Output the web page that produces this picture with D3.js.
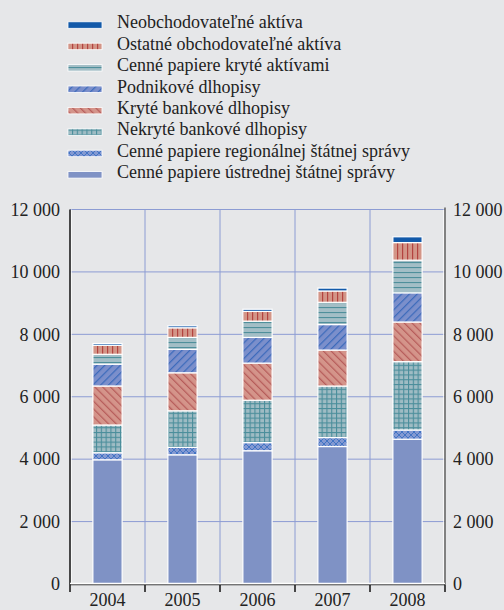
<!DOCTYPE html>
<html>
<head>
<meta charset="utf-8">
<script src="https://cdn.jsdelivr.net/npm/d3@7"></script>
<style>
  html, body { margin: 0; padding: 0; background: #e6e7e9; }
  svg { display: block; }
  svg text { font-family: "Liberation Serif", "Times New Roman", Times, "DejaVu Serif", serif; fill: #222; }
</style>
</head>
<body>
<svg id="chart" width="504" height="610"></svg>
<script>
// Holdings by asset type, yearly (values in the chart's units)
const years = ["2004", "2005", "2006", "2007", "2008"];

const ustredna   = [3980, 4140, 4270, 4405, 4640];
const regionalna = [225, 237, 260, 288, 295];
const nekryte    = [890, 1173, 1358, 1650, 2190];
const kryte      = [1250, 1218, 1190, 1153, 1270];
const podnikove  = [698, 750, 823, 817, 936];
const krytAktiv  = [317, 384, 522, 714, 1045];
const ostatne    = [288, 308, 311, 362, 564];
const neobch     = [58, 64, 70, 93, 186];

// series from bottom of stack to top
const seriesKeys = ["ustredna", "regionalna", "nekryte", "kryte", "podnikove", "krytAktiv", "ostatne", "neobch"];
const seriesValues = { ustredna, regionalna, nekryte, kryte, podnikove, krytAktiv, ostatne, neobch };
const seriesLabels = {
  neobch: "Neobchodovateľné aktíva",
  ostatne: "Ostatné obchodovateľné aktíva",
  krytAktiv: "Cenné papiere kryté aktívami",
  podnikove: "Podnikové dlhopisy",
  kryte: "Kryté bankové dlhopisy",
  nekryte: "Nekryté bankové dlhopisy",
  regionalna: "Cenné papiere regionálnej štátnej správy",
  ustredna: "Cenné papiere ústrednej štátnej správy"
};
const legendOrder = ["neobch", "ostatne", "krytAktiv", "podnikove", "kryte", "nekryte", "regionalna", "ustredna"];
const yTicks = [0, 2000, 4000, 6000, 8000, 10000, 12000];

const FONT = '"Liberation Serif", "Times New Roman", Times, "DejaVu Serif", serif';
const svg = d3.select("#chart");

// ---- fill patterns ----
const defs = svg.append("defs");
function pat(id, w, h, bg, transform) {
  const p = defs.append("pattern").attr("id", id)
    .attr("patternUnits", "userSpaceOnUse").attr("width", w).attr("height", h);
  if (transform) p.attr("patternTransform", transform);
  p.append("rect").attr("width", w).attr("height", h).attr("fill", bg);
  return p;
}
// vertical red stripes
pat("p-ostatne", 5, 5, "#d39587")
  .append("rect").attr("x", 2).attr("y", 0).attr("width", 1.2).attr("height", 5).attr("fill", "#b3433f");
// horizontal teal stripes
pat("p-krytAktiv", 5, 5, "#a3bec6")
  .append("rect").attr("x", 0).attr("y", 2).attr("width", 5).attr("height", 1.1).attr("fill", "#4f8f9b");
// forward diagonal blue lines
pat("p-podnikove", 5.5, 5.5, "#7b8fcb", "rotate(45)")
  .append("rect").attr("x", 2).attr("y", 0).attr("width", 1).attr("height", 5.5).attr("fill", "#2e62b8");
// back diagonal red lines
pat("p-kryte", 5.5, 5.5, "#d4948a", "rotate(-45)")
  .append("rect").attr("x", 2).attr("y", 0).attr("width", 1).attr("height", 5.5).attr("fill", "#b04f4f");
// teal grid
{
  const p = pat("p-nekryte", 4.8, 4.8, "#9fbcc4");
  p.append("rect").attr("x", 0).attr("y", 0).attr("width", 4.8).attr("height", 1.1).attr("fill", "#4b8e9b");
  p.append("rect").attr("x", 0).attr("y", 0).attr("width", 1.1).attr("height", 4.8).attr("fill", "#4b8e9b");
}
// blue cross-hatch
{
  const p = pat("p-regionalna", 6, 6, "#8399d2");
  p.append("path").attr("d", "M0,0L6,6M6,0L0,6").attr("stroke", "#3b6fc3").attr("stroke-width", 0.9).attr("fill", "none");
}

const fills = {
  ustredna: "#7f92c5",
  regionalna: "url(#p-regionalna)",
  nekryte: "url(#p-nekryte)",
  kryte: "url(#p-kryte)",
  podnikove: "url(#p-podnikove)",
  krytAktiv: "url(#p-krytAktiv)",
  ostatne: "url(#p-ostatne)",
  neobch: "#1259a9"
};

// ---- legend ----
const legend = svg.append("g");
legendOrder.forEach((k, i) => {
  const base = 28.3 + i * 21.4;
  legend.append("rect")
    .attr("x", 68).attr("y", base - 6.5).attr("width", 34).attr("height", 6.5)
    .attr("fill", fills[k]).attr("stroke", "#fff").attr("stroke-width", 0.8);
  legend.append("text")
    .attr("x", 117).attr("y", base).attr("font-size", 18).attr("font-family", FONT)
    .text(seriesLabels[k]);
});

// ---- scales ----
const x0 = 70, x1 = 445, yBottom = 584, yTop = 209.5;
const x = d3.scaleBand().domain(years).range([x0, x1]).paddingInner(0.61).paddingOuter(0.305);
const y = d3.scaleLinear().domain([0, 12000]).range([yBottom, yTop]);
const fmt = d3.formatLocale({ decimal: ",", thousands: " ", grouping: [3], currency: ["", ""] }).format(",d");

// ---- grid ----
const grid = svg.append("g").attr("stroke", "#8c9cd3").attr("stroke-width", 1);
yTicks.filter(t => t > 0).forEach(t => {
  grid.append("line").attr("x1", x0).attr("x2", x1).attr("y1", y(t)).attr("y2", y(t));
});
const step = x.step();
years.slice(1).forEach((yr, i) => {
  const gx = x0 + step * (i + 1);
  grid.append("line").attr("x1", gx).attr("x2", gx).attr("y1", yTop).attr("y2", yBottom);
});

// ---- stacked bars ----
const table = years.map((yr, i) => {
  const row = { year: yr };
  seriesKeys.forEach(k => row[k] = seriesValues[k][i]);
  return row;
});
const stacked = d3.stack().keys(seriesKeys)(table);
svg.append("g").selectAll("g").data(stacked).join("g")
  .attr("fill", d => fills[d.key])
  .selectAll("rect").data(d => d).join("rect")
  .attr("x", d => x(d.data.year))
  .attr("width", x.bandwidth())
  .attr("y", d => y(d[1]))
  .attr("height", d => y(d[0]) - y(d[1]))
  .attr("stroke", "#fff").attr("stroke-width", 1.2);

// ---- axes ----
function styleAxisText(g) {
  g.attr("font-family", FONT).attr("font-size", 18);
  g.selectAll("text").attr("font-size", 18).attr("font-family", FONT).attr("fill", "#222");
}
const axY = d3.axisLeft(y).tickValues(yTicks).tickFormat(fmt).tickSize(0).tickPadding(10);
const gl = svg.append("g").attr("transform", `translate(${x0},0)`).call(axY);
gl.select(".domain").remove();
styleAxisText(gl);

const axYR = d3.axisRight(y).tickValues(yTicks).tickFormat(fmt).tickSize(0).tickPadding(8);
const gr = svg.append("g").attr("transform", `translate(${x1},0)`).call(axYR);
gr.select(".domain").remove();
styleAxisText(gr);

// axis lines
svg.append("line").attr("x1", x0 + 1.2).attr("x2", x0 + 1.2).attr("y1", yTop).attr("y2", yBottom).attr("stroke", "#fff").attr("stroke-width", 1);
svg.append("line").attr("x1", x0).attr("x2", x0).attr("y1", yTop).attr("y2", yBottom + 1).attr("stroke", "#111").attr("stroke-width", 1.5);
svg.append("line").attr("x1", x1 - 1.2).attr("x2", x1 - 1.2).attr("y1", yTop).attr("y2", yBottom).attr("stroke", "#fff").attr("stroke-width", 1);
svg.append("line").attr("x1", x1).attr("x2", x1).attr("y1", yTop - 2).attr("y2", yBottom + 1).attr("stroke", "#555").attr("stroke-width", 1.4);
svg.append("line").attr("x1", x0).attr("x2", x1).attr("y1", yBottom - 0.6).attr("y2", yBottom - 0.6).attr("stroke", "#fff").attr("stroke-width", 1.2);
svg.append("line").attr("x1", x0).attr("x2", x1).attr("y1", yBottom + 0.8).attr("y2", yBottom + 0.8).attr("stroke", "#444").attr("stroke-width", 1);

// category boundary ticks and year labels
const axX = d3.axisBottom(x).tickSize(0).tickPadding(9);
const gx = svg.append("g").attr("transform", `translate(0,${yBottom})`).call(axX);
gx.select(".domain").remove();
styleAxisText(gx);
d3.range(years.length + 1).forEach(i => {
  const tx = x0 + step * i;
  svg.append("path").attr("d", `M${tx},${yBottom + 1}V${yBottom + 8}`).attr("stroke", "#111").attr("stroke-width", 1.5).attr("fill", "none");
});
</script>
</body>
</html>
